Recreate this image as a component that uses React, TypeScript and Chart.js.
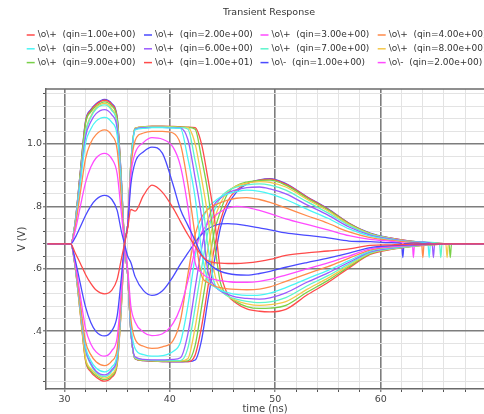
import React, { useEffect, useRef } from "react";
import { Chart, registerables } from "chart.js";

Chart.register(...registerables);

// time axis (ns)
const TIME_NS = [
  28.4, 30.6, 31.0, 31.5, 32.0, 32.5, 33.0, 33.8, 34.5, 35.0, 35.4, 35.7,
  36.0, 36.3, 36.7, 37.5, 38.3, 39.3, 40.3, 41.0, 41.7, 42.4, 43.0, 43.6,
  44.2, 44.8, 45.5, 46.3, 47.3, 48.5, 49.5, 51.0, 53.0, 55.0, 57.0, 59.0,
  61.0, 63.0, 66.0, 70.0,
];

// \o\+ outputs, qin = 1 .. 10
const OP_Q1 = [0.68, 0.68, 0.652, 0.618, 0.582, 0.553, 0.532, 0.52, 0.532, 0.566, 0.632, 0.68, 0.73, 0.79, 0.785, 0.835, 0.868, 0.845, 0.795, 0.752, 0.71, 0.672, 0.643, 0.626, 0.62, 0.618, 0.617, 0.617, 0.619, 0.624, 0.63, 0.643, 0.651, 0.657, 0.664, 0.675, 0.677, 0.679, 0.68, 0.68];
const OP_Q2 = [0.68, 0.68, 0.632, 0.553, 0.478, 0.428, 0.399, 0.385, 0.402, 0.449, 0.573, 0.68, 0.74, 0.87, 0.94, 0.975, 0.99, 0.97, 0.87, 0.79, 0.74, 0.69, 0.645, 0.62, 0.603, 0.592, 0.585, 0.581, 0.58, 0.585, 0.592, 0.605, 0.62, 0.634, 0.65, 0.668, 0.674, 0.677, 0.68, 0.68];
const OP_Q3 = [0.68, 0.68, 0.622, 0.515, 0.409, 0.359, 0.334, 0.32, 0.338, 0.38, 0.533, 0.68, 0.74, 0.9, 0.97, 1.005, 1.02, 1.015, 0.99, 0.93, 0.8, 0.62, 0.588, 0.572, 0.566, 0.562, 0.559, 0.557, 0.557, 0.56, 0.566, 0.58, 0.6, 0.619, 0.641, 0.664, 0.671, 0.676, 0.68, 0.68];
const OP_Q4 = [0.68, 0.68, 0.617, 0.49, 0.367, 0.325, 0.302, 0.29, 0.305, 0.344, 0.509, 0.68, 0.74, 0.92, 1.01, 1.035, 1.04, 1.04, 1.035, 1.0, 0.873, 0.706, 0.58, 0.556, 0.545, 0.54, 0.536, 0.534, 0.533, 0.535, 0.542, 0.56, 0.584, 0.607, 0.634, 0.66, 0.67, 0.675, 0.679, 0.68];
const OP_Q5 = [0.68, 0.68, 0.614, 0.481, 0.351, 0.306, 0.282, 0.27, 0.286, 0.327, 0.501, 0.68, 0.74, 0.93, 1.045, 1.05, 1.052, 1.052, 1.051, 1.05, 0.955, 0.828, 0.66, 0.563, 0.543, 0.531, 0.524, 0.518, 0.515, 0.516, 0.522, 0.54, 0.568, 0.595, 0.626, 0.657, 0.668, 0.675, 0.679, 0.68];
const OP_Q6 = [0.68, 0.68, 0.613, 0.476, 0.343, 0.297, 0.272, 0.26, 0.277, 0.318, 0.497, 0.68, 0.74, 0.93, 1.047, 1.052, 1.053, 1.053, 1.052, 1.051, 1.015, 0.891, 0.769, 0.594, 0.547, 0.529, 0.518, 0.509, 0.505, 0.503, 0.507, 0.523, 0.557, 0.587, 0.621, 0.654, 0.666, 0.674, 0.679, 0.68];
const OP_Q7 = [0.68, 0.68, 0.612, 0.473, 0.339, 0.293, 0.268, 0.255, 0.272, 0.314, 0.494, 0.68, 0.74, 0.935, 1.048, 1.053, 1.054, 1.054, 1.053, 1.052, 1.048, 0.946, 0.837, 0.675, 0.557, 0.53, 0.512, 0.503, 0.496, 0.492, 0.494, 0.508, 0.545, 0.578, 0.616, 0.652, 0.665, 0.673, 0.679, 0.68];
const OP_Q8 = [0.68, 0.68, 0.611, 0.462, 0.314, 0.28, 0.263, 0.25, 0.263, 0.301, 0.484, 0.68, 0.74, 0.935, 1.05, 1.054, 1.055, 1.055, 1.054, 1.053, 1.052, 1.0, 0.891, 0.769, 0.593, 0.536, 0.512, 0.498, 0.488, 0.483, 0.485, 0.495, 0.534, 0.57, 0.611, 0.65, 0.664, 0.673, 0.679, 0.68];
const OP_Q9 = [0.68, 0.68, 0.61, 0.46, 0.309, 0.275, 0.258, 0.245, 0.258, 0.297, 0.481, 0.68, 0.74, 0.94, 1.05, 1.055, 1.056, 1.056, 1.055, 1.054, 1.053, 1.047, 0.955, 0.846, 0.69, 0.555, 0.516, 0.494, 0.479, 0.473, 0.474, 0.483, 0.525, 0.563, 0.607, 0.648, 0.663, 0.672, 0.679, 0.68];
const OP_Q10 = [0.68, 0.68, 0.61, 0.457, 0.305, 0.27, 0.253, 0.24, 0.253, 0.292, 0.479, 0.68, 0.74, 0.94, 1.05, 1.055, 1.057, 1.057, 1.056, 1.055, 1.054, 1.052, 1.0, 0.891, 0.769, 0.593, 0.517, 0.49, 0.472, 0.464, 0.462, 0.47, 0.516, 0.556, 0.603, 0.646, 0.662, 0.672, 0.679, 0.68];

// \o\- outputs, qin = 1 .. 10
const OM_Q1 = [0.68, 0.68, 0.699, 0.734, 0.771, 0.801, 0.822, 0.835, 0.822, 0.787, 0.72, 0.68, 0.64, 0.62, 0.575, 0.53, 0.515, 0.53, 0.575, 0.615, 0.65, 0.685, 0.71, 0.728, 0.738, 0.744, 0.745, 0.743, 0.738, 0.731, 0.725, 0.715, 0.707, 0.699, 0.689, 0.687, 0.684, 0.682, 0.68, 0.68];
const OM_Q2 = [0.68, 0.68, 0.719, 0.799, 0.876, 0.926, 0.955, 0.97, 0.952, 0.905, 0.778, 0.68, 0.6, 0.48, 0.43, 0.397, 0.386, 0.392, 0.425, 0.475, 0.56, 0.66, 0.715, 0.745, 0.768, 0.783, 0.794, 0.8, 0.797, 0.787, 0.777, 0.76, 0.742, 0.725, 0.706, 0.694, 0.688, 0.683, 0.68, 0.68];
const OM_Q3 = [0.68, 0.68, 0.731, 0.842, 0.953, 1.004, 1.03, 1.045, 1.027, 0.982, 0.823, 0.68, 0.59, 0.44, 0.375, 0.352, 0.345, 0.35, 0.37, 0.434, 0.58, 0.71, 0.765, 0.79, 0.803, 0.812, 0.82, 0.826, 0.828, 0.822, 0.813, 0.795, 0.77, 0.746, 0.718, 0.7, 0.691, 0.685, 0.681, 0.68];
const OM_Q4 = [0.68, 0.68, 0.737, 0.872, 1.003, 1.048, 1.073, 1.085, 1.069, 1.028, 0.851, 0.68, 0.585, 0.42, 0.345, 0.325, 0.32, 0.322, 0.335, 0.365, 0.48, 0.64, 0.745, 0.795, 0.815, 0.83, 0.84, 0.847, 0.852, 0.848, 0.84, 0.822, 0.791, 0.762, 0.728, 0.705, 0.693, 0.686, 0.681, 0.68];
const OM_Q5 = [0.68, 0.68, 0.74, 0.884, 1.023, 1.071, 1.097, 1.11, 1.093, 1.049, 0.862, 0.68, 0.58, 0.4, 0.318, 0.31, 0.308, 0.308, 0.31, 0.315, 0.39, 0.539, 0.663, 0.755, 0.805, 0.826, 0.843, 0.853, 0.86, 0.862, 0.856, 0.84, 0.805, 0.772, 0.734, 0.708, 0.695, 0.687, 0.681, 0.68];
const OM_Q6 = [0.68, 0.68, 0.743, 0.891, 1.035, 1.085, 1.112, 1.125, 1.107, 1.062, 0.869, 0.68, 0.58, 0.4, 0.315, 0.309, 0.307, 0.306, 0.306, 0.306, 0.345, 0.476, 0.6, 0.716, 0.785, 0.828, 0.85, 0.862, 0.869, 0.872, 0.868, 0.852, 0.815, 0.779, 0.739, 0.71, 0.696, 0.687, 0.681, 0.68];
const OM_Q7 = [0.68, 0.68, 0.743, 0.893, 1.039, 1.089, 1.116, 1.13, 1.112, 1.066, 0.871, 0.68, 0.58, 0.4, 0.314, 0.308, 0.306, 0.305, 0.305, 0.305, 0.312, 0.413, 0.539, 0.663, 0.755, 0.81, 0.848, 0.865, 0.874, 0.879, 0.877, 0.862, 0.823, 0.785, 0.742, 0.712, 0.697, 0.687, 0.681, 0.68];
const OM_Q8 = [0.68, 0.68, 0.744, 0.905, 1.066, 1.103, 1.121, 1.135, 1.121, 1.08, 0.882, 0.68, 0.58, 0.4, 0.313, 0.307, 0.305, 0.304, 0.304, 0.304, 0.305, 0.355, 0.476, 0.6, 0.716, 0.785, 0.842, 0.866, 0.878, 0.883, 0.884, 0.868, 0.827, 0.789, 0.744, 0.713, 0.697, 0.688, 0.681, 0.68];
const OM_Q9 = [0.68, 0.68, 0.745, 0.908, 1.07, 1.107, 1.126, 1.14, 1.126, 1.084, 0.884, 0.68, 0.58, 0.4, 0.312, 0.306, 0.304, 0.303, 0.303, 0.303, 0.303, 0.324, 0.413, 0.539, 0.663, 0.755, 0.818, 0.852, 0.873, 0.884, 0.887, 0.871, 0.83, 0.791, 0.746, 0.713, 0.698, 0.688, 0.681, 0.68];
const OM_Q10 = [0.68, 0.68, 0.745, 0.909, 1.073, 1.11, 1.129, 1.143, 1.129, 1.087, 0.886, 0.68, 0.58, 0.4, 0.312, 0.306, 0.304, 0.303, 0.302, 0.302, 0.303, 0.308, 0.371, 0.497, 0.62, 0.732, 0.803, 0.845, 0.872, 0.885, 0.889, 0.873, 0.831, 0.792, 0.746, 0.714, 0.698, 0.688, 0.681, 0.68];

const OP_SERIES = [OP_Q1, OP_Q2, OP_Q3, OP_Q4, OP_Q5, OP_Q6, OP_Q7, OP_Q8, OP_Q9, OP_Q10];
const OM_SERIES = [OM_Q1, OM_Q2, OM_Q3, OM_Q4, OM_Q5, OM_Q6, OM_Q7, OM_Q8, OM_Q9, OM_Q10];
const QIN_LABELS = ["1.00e+00", "2.00e+00", "3.00e+00", "4.00e+00", "5.00e+00", "6.00e+00", "7.00e+00", "8.00e+00", "9.00e+00", "1.00e+01"];

// small settling glitches on the \o\- traces (time of each, qin = 1..8)
const SPIKE_TIMES = [62.1, 63.1, 64.0, 64.6, 65.0, 65.7, 66.3, 66.6];
const SPIKE_BASE = 0.681;
const SPIKE_LOW = 0.636;

const PALETTE = ["#ff4a4a", "#4a4aff", "#ff4aff", "#ff8a4a", "#4af5f5", "#9a5aff", "#5cf5cc", "#f5c84a", "#78d048"];

const X_TICKS = [30, 32, 34, 36, 38, 40, 42, 44, 46, 48, 50, 52, 54, 56, 58, 60, 62, 64, 66, 68];
const X_MAJOR = [30, 40, 50, 60];
const Y_TICKS = [0.24, 0.28, 0.32, 0.36, 0.4, 0.44, 0.48, 0.52, 0.56, 0.6, 0.64, 0.68, 0.72, 0.76, 0.8, 0.84, 0.88, 0.92, 0.96, 1.0, 1.04, 1.08, 1.12, 1.16];
const Y_MAJOR = [0.4, 0.6, 0.8, 1.0];
const Y_MAJOR_LABELS = [".4", ".6", ".8", "1.0"];

const FONT = "'DejaVu Sans', sans-serif";
const MAJOR_GRID = "#7d7d7d";
const MINOR_GRID = "#e3e3e3";

const isMajorX = (v: number) => X_MAJOR.some((m) => Math.abs(m - v) < 1e-6);
const isMajorY = (v: number) => Y_MAJOR.some((m) => Math.abs(m - v) < 1e-6);

function buildDatasets() {
  const sets: any[] = [];
  const make = (label: string, vals: number[], color: string, spike?: number) => {
    const pts = TIME_NS.map((t, i) => ({ x: t, y: vals[i] }));
    if (spike !== undefined) {
      pts.push({ x: spike - 0.12, y: SPIKE_BASE }, { x: spike, y: SPIKE_LOW }, { x: spike + 0.12, y: SPIKE_BASE });
      pts.sort((a, b) => a.x - b.x);
    }
    return {
      label,
      data: pts,
      borderColor: color,
      backgroundColor: color,
      borderWidth: 1.3,
      pointRadius: 0,
      fill: false,
      cubicInterpolationMode: "monotone",
    };
  };
  OP_SERIES.forEach((vals, i) => {
    sets.push(make("\\o\\+  (qin=" + QIN_LABELS[i] + ")", vals, PALETTE[i % PALETTE.length]));
  });
  OM_SERIES.forEach((vals, i) => {
    sets.push(make("\\o\\-  (qin=" + QIN_LABELS[i] + ")", vals, PALETTE[(i + 10) % PALETTE.length], SPIKE_TIMES[i]));
  });
  return sets;
}

const headerPlugin = {
  id: "header",
  afterDraw(chart: any) {
    const { ctx, chartArea } = chart;
    ctx.save();
    ctx.strokeStyle = "#6a6a6a";
    ctx.lineWidth = 1.5;
    ctx.beginPath();
    ctx.moveTo(chartArea.left, chartArea.top);
    ctx.lineTo(chartArea.right, chartArea.top);
    ctx.stroke();
    ctx.fillStyle = "#333";
    ctx.font = "9.5px " + FONT;
    ctx.textAlign = "center";
    ctx.textBaseline = "middle";
    ctx.fillText("Transient Response", 269, 13);
    const cols = [26.7, 144, 260.5, 377.7];
    const rows = [35, 48.8, 62.6];
    ctx.font = "9px " + FONT;
    ctx.textAlign = "left";
    const ds = chart.data.datasets;
    for (let i = 0; i < 12 && i < ds.length; i++) {
      const x = cols[i % 4];
      const y = rows[Math.floor(i / 4)];
      ctx.strokeStyle = ds[i].borderColor;
      ctx.lineWidth = 1.5;
      ctx.beginPath();
      ctx.moveTo(x, y);
      ctx.lineTo(x + 8, y);
      ctx.stroke();
      ctx.fillStyle = "#333";
      ctx.fillText(ds[i].label, x + 11, y);
    }
    ctx.restore();
  },
};

export default function App() {
  const ref = useRef<HTMLCanvasElement | null>(null);
  useEffect(() => {
    if (!ref.current) return;
    const chart = new Chart(ref.current, {
      type: "line",
      data: { datasets: buildDatasets() as any },
      plugins: [headerPlugin],
      options: {
        responsive: false,
        animation: false,
        devicePixelRatio: 1,
        layout: { padding: { top: 89, left: 0, right: 0, bottom: 0 } },
        plugins: {
          legend: { display: false },
          title: { display: false },
          tooltip: { enabled: false },
        },
        scales: {
          x: {
            type: "linear",
            min: 28.25,
            max: 69.8,
            afterBuildTicks: (scale: any) => {
              scale.ticks = X_TICKS.map((v) => ({ value: v }));
            },
            afterFit: (scale: any) => {
              scale.height = 25;
            },
            ticks: {
              autoSkip: false,
              maxRotation: 0,
              padding: 2,
              color: "#444",
              font: { family: FONT, size: 9.5 },
              callback: (v: any) => (isMajorX(Number(v)) ? String(v) : ""),
            },
            grid: {
              color: (c: any) => (c.tick && isMajorX(c.tick.value) ? MAJOR_GRID : MINOR_GRID),
              lineWidth: (c: any) => (c.tick && isMajorX(c.tick.value) ? 1.6 : 1),
              tickColor: "#555",
              tickLength: 3,
              tickWidth: 1,
            },
            border: { display: true, color: "#6a6a6a", width: 1.5 },
            title: {
              display: true,
              text: "time (ns)",
              color: "#444",
              font: { family: FONT, size: 10, lineHeight: 1 },
              padding: { top: 0, bottom: 0 },
            },
          },
          y: {
            type: "linear",
            min: 0.215,
            max: 1.176,
            afterBuildTicks: (scale: any) => {
              scale.ticks = Y_TICKS.map((v) => ({ value: v }));
            },
            afterFit: (scale: any) => {
              scale.width = 46;
            },
            ticks: {
              autoSkip: false,
              padding: 1,
              color: "#444",
              font: { family: FONT, size: 9.5 },
              callback: (v: any) => {
                const idx = Y_MAJOR.findIndex((m) => Math.abs(m - Number(v)) < 1e-6);
                return idx >= 0 ? Y_MAJOR_LABELS[idx] : "";
              },
            },
            grid: {
              color: (c: any) => (c.tick && isMajorY(c.tick.value) ? MAJOR_GRID : MINOR_GRID),
              lineWidth: (c: any) => (c.tick && isMajorY(c.tick.value) ? 1.6 : 1),
              tickColor: "#555",
              tickLength: 3,
              tickWidth: 1,
            },
            border: { display: true, color: "#6a6a6a", width: 1.5 },
            title: {
              display: true,
              text: "V (V)",
              color: "#444",
              font: { family: FONT, size: 10, lineHeight: 1.2 },
              padding: { top: 16, bottom: 0 },
            },
          },
        },
      } as any,
    });
    return () => chart.destroy();
  }, []);
  return (
    <div style={{ position: "fixed", left: 0, top: 0, width: 484, height: 414, background: "#fff" }}>
      <canvas ref={ref} width={484} height={414} style={{ display: "block", width: 484, height: 414 }} />
    </div>
  );
}
